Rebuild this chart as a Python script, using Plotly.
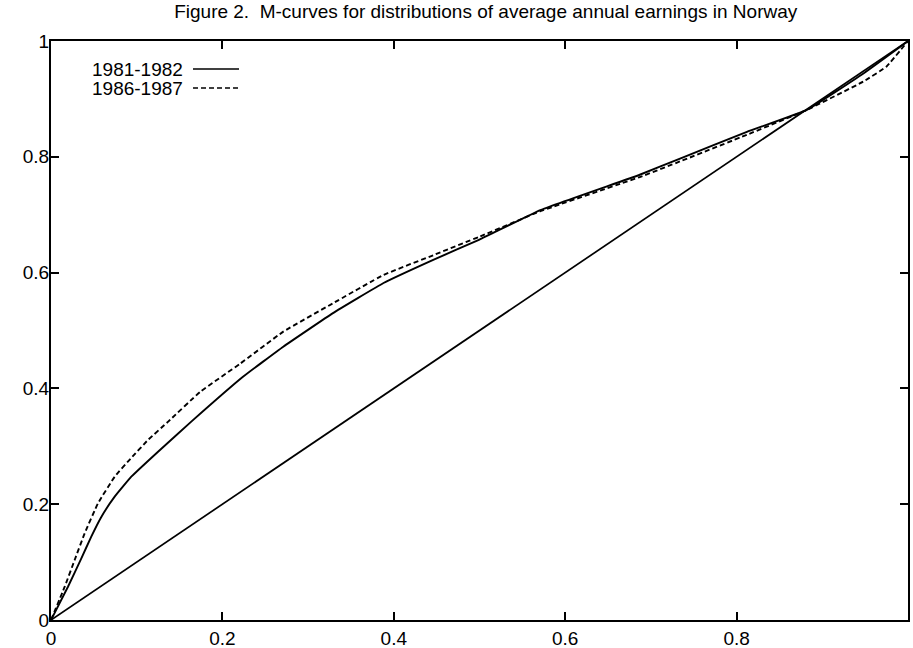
import plotly.graph_objects as go

# Data
x_8182 = [0, 0.0198, 0.0354, 0.047, 0.0587, 0.0743, 0.0937, 0.1249, 0.164, 0.224,
          0.271, 0.329, 0.388, 0.446, 0.5, 0.571, 0.687, 0.734, 0.812, 0.882, 0.948, 1.0]
y_8182 = [0, 0.0575, 0.1065, 0.144, 0.178, 0.213, 0.2475, 0.2907, 0.343, 0.420,
          0.472, 0.530, 0.582, 0.622, 0.657, 0.708, 0.769, 0.797, 0.843, 0.881, 0.944, 1.0]

x_8687 = [0, 0.016, 0.0276, 0.0393, 0.0548, 0.0743, 0.0937, 0.1132, 0.137, 0.174, 0.221,
          0.271, 0.329, 0.388, 0.446, 0.5, 0.571, 0.687, 0.734, 0.812, 0.882, 0.948, 0.975, 1.0]
y_8687 = [0, 0.0575, 0.1036, 0.1497, 0.2015, 0.2475, 0.280, 0.311, 0.343, 0.394, 0.443,
          0.498, 0.547, 0.596, 0.630, 0.662, 0.706, 0.765, 0.792, 0.838, 0.881, 0.930, 0.956, 1.0]

x_equal = [0, 1]
y_equal = [0, 1]

tick_vals = [0, 0.2, 0.4, 0.6, 0.8, 1]
tick_text = ["0", "0.2", "0.4", "0.6", "0.8", "1"]

series_names = ["1981-1982", "1986-1987"]
title_text = "Figure 2.  M-curves for distributions of average annual earnings in Norway"

FONT = "Liberation Sans, Arial, Helvetica, sans-serif"

fig = go.Figure()
fig.add_trace(go.Scatter(x=x_8182, y=y_8182, mode="lines", name=series_names[0],
                         line=dict(color="black", width=1.9, shape="spline", smoothing=0.3),
                         showlegend=False))
fig.add_trace(go.Scatter(x=x_8687, y=y_8687, mode="lines", name=series_names[1],
                         line=dict(color="black", width=1.9, dash="5px,3px", shape="spline", smoothing=0.3),
                         showlegend=False))
fig.add_trace(go.Scatter(x=x_equal, y=y_equal, mode="lines", name="equality",
                         line=dict(color="black", width=1.7), showlegend=False))

axis_common = dict(range=[0, 1], tickvals=tick_vals, ticktext=tick_text,
                   ticks="inside", ticklen=8, tickwidth=1.5, tickcolor="black",
                   showline=True, linecolor="black", linewidth=2.2, mirror="ticks",
                   showgrid=False, zeroline=False, automargin=False,
                   tickfont=dict(family=FONT, size=19, color="black"))

fig.update_xaxes(**axis_common)
fig.update_yaxes(**axis_common, ticklabelstandoff=-4)

# gnuplot-style legend: text followed by line sample
legend_rows = [(0.9516, "solid"), (0.9188, "5px,3px")]
for (ypos, dash), name in zip(legend_rows, series_names):
    fig.add_annotation(xref="paper", yref="paper", x=0.1525, y=ypos, text=name,
                       showarrow=False, xanchor="right", yanchor="middle",
                       xshift=3, font=dict(family=FONT, size=19, color="black"))
    fig.add_shape(type="line", xref="paper", yref="paper", x0=0.1657, x1=0.2194,
                  y0=ypos, y1=ypos, line=dict(color="black", width=1.6, dash=dash))

fig.update_layout(
    width=913, height=648,
    margin=dict(l=51, r=5, t=41, b=28),
    paper_bgcolor="white", plot_bgcolor="white",
    title=dict(text=title_text, x=0.532, xanchor="center", y=0.983, yanchor="middle",
               font=dict(family=FONT, size=19, color="black")),
)

fig.write_html("out.html", post_script="document.body.style.margin='0';",
               config={"displayModeBar": False})
